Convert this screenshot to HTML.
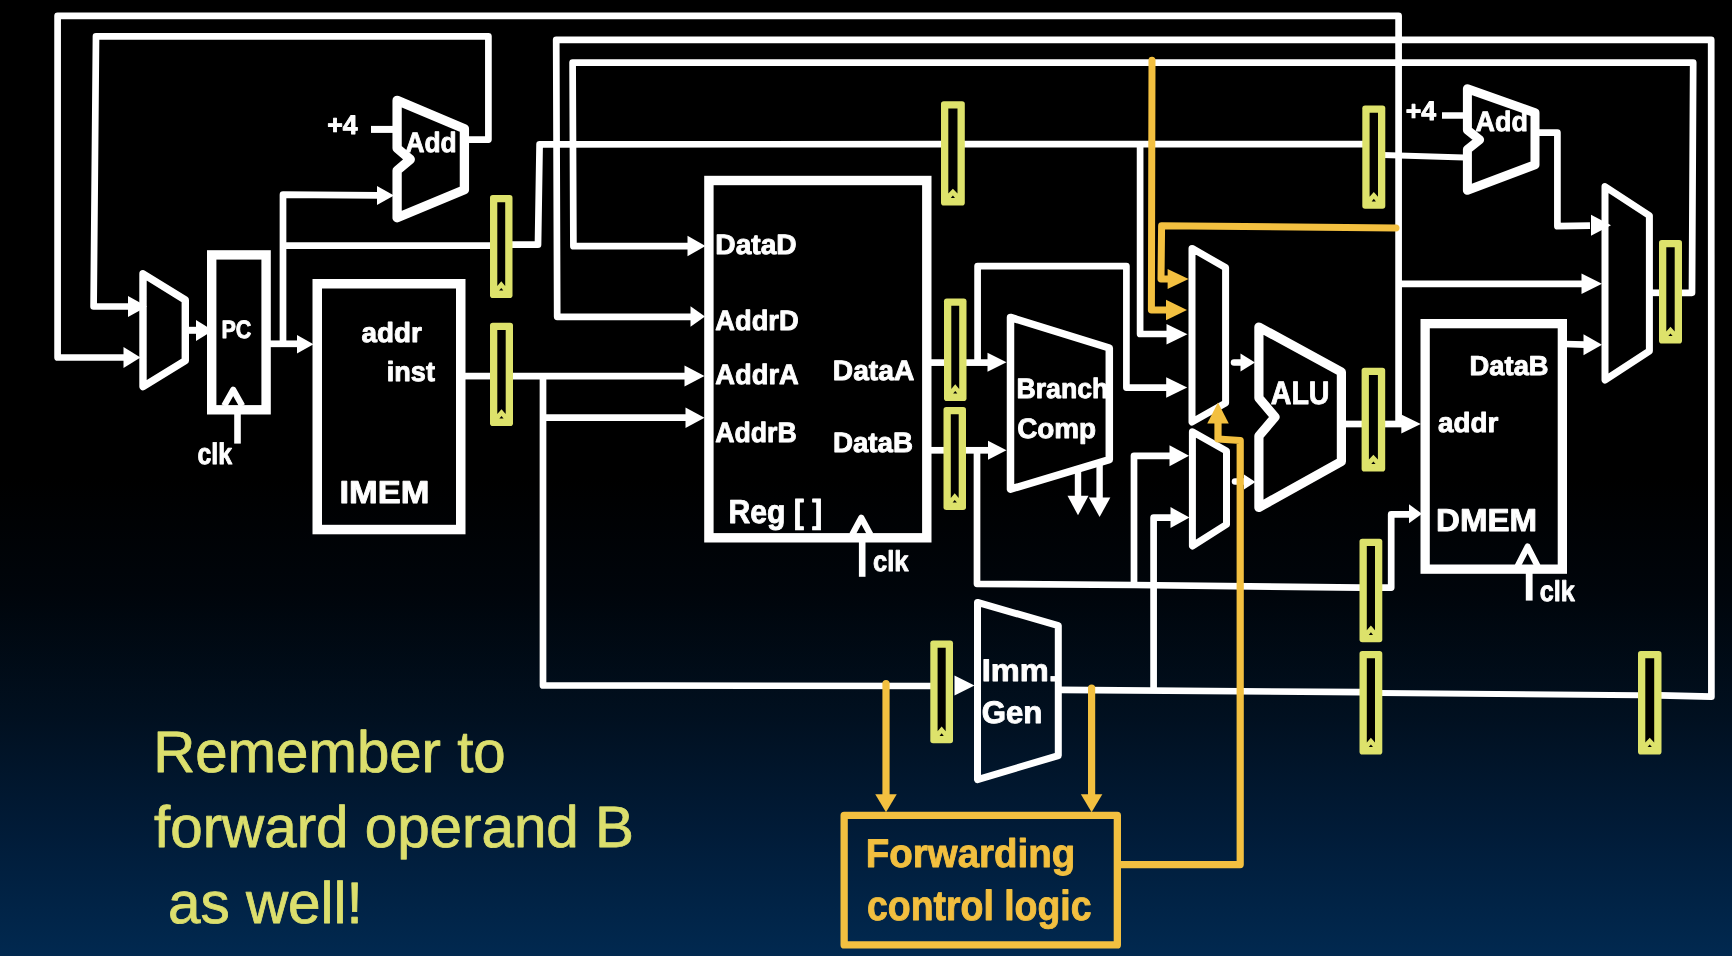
<!DOCTYPE html>
<html><head><meta charset="utf-8"><title>Forwarding datapath</title>
<style>
html,body{margin:0;padding:0;background:#000;}
body{width:1732px;height:956px;overflow:hidden;font-family:"Liberation Sans",sans-serif;}
svg{display:block;font-family:"Liberation Sans",sans-serif;}
</style></head><body>
<svg width="1732" height="956" viewBox="0 0 1732 956">
<defs><linearGradient id="bg" x1="0" y1="0" x2="0" y2="1">
<stop offset="0" stop-color="#000000"/><stop offset="0.50" stop-color="#000000"/>
<stop offset="0.62" stop-color="#00050b"/><stop offset="0.75" stop-color="#011020"/>
<stop offset="0.875" stop-color="#011c39"/><stop offset="1" stop-color="#012950"/>
</linearGradient></defs>
<rect width="1732" height="956" fill="url(#bg)"/>
<path d="M1398.60,424.00 L1398.60,15.80 L57.60,15.80 L57.60,357.50 L125.00,357.50" fill="none" stroke="#ffffff" stroke-width="6.7" stroke-linecap="butt" stroke-linejoin="round"/>
<path d="M140.50,357.50 L123.50,347.00 L123.50,368.00 Z" fill="#ffffff"/>
<path d="M466.00,139.60 L488.40,139.60 L488.40,36.30 L96.00,36.30 L93.60,306.50 L130.00,306.50" fill="none" stroke="#ffffff" stroke-width="6.7" stroke-linecap="butt" stroke-linejoin="round"/>
<path d="M147.00,306.50 L128.00,296.00 L128.00,317.00 Z" fill="#ffffff"/>
<path d="M371.00,129.40 L394.00,129.40" fill="none" stroke="#ffffff" stroke-width="7" stroke-linecap="butt" stroke-linejoin="round"/>
<path d="M1442.00,115.40 L1465.00,115.60" fill="none" stroke="#ffffff" stroke-width="6.5" stroke-linecap="butt" stroke-linejoin="round"/>
<path d="M188.00,330.30 L198.00,330.30" fill="none" stroke="#ffffff" stroke-width="7" stroke-linecap="butt" stroke-linejoin="round"/>
<path d="M213.00,330.50 L196.00,320.00 L196.00,341.00 Z" fill="#ffffff"/>
<path d="M269.00,343.80 L299.00,343.80" fill="none" stroke="#ffffff" stroke-width="6.7" stroke-linecap="butt" stroke-linejoin="round"/>
<path d="M313.50,344.30 L297.00,335.05 L297.00,353.55 Z" fill="#ffffff"/>
<path d="M283.00,346.00 L283.00,194.70 L378.00,195.30" fill="none" stroke="#ffffff" stroke-width="6.7" stroke-linecap="butt" stroke-linejoin="round"/>
<path d="M394.00,195.50 L377.00,186.00 L377.00,205.00 Z" fill="#ffffff"/>
<path d="M283.00,245.60 L492.00,245.60" fill="none" stroke="#ffffff" stroke-width="6.7" stroke-linecap="butt" stroke-linejoin="round"/>
<path d="M510.00,244.60 L538.00,244.60 L539.60,144.30 L943.00,144.20" fill="none" stroke="#ffffff" stroke-width="6.7" stroke-linecap="butt" stroke-linejoin="round"/>
<path d="M962.00,144.20 L1364.00,144.20" fill="none" stroke="#ffffff" stroke-width="6.7" stroke-linecap="butt" stroke-linejoin="round"/>
<path d="M1140.10,144.20 L1140.10,334.00 L1168.00,334.00" fill="none" stroke="#ffffff" stroke-width="6.7" stroke-linecap="butt" stroke-linejoin="round"/>
<path d="M1187.50,334.20 L1166.50,323.95 L1166.50,344.45 Z" fill="#ffffff"/>
<path d="M1383.00,155.00 L1464.00,157.60" fill="none" stroke="#ffffff" stroke-width="6" stroke-linecap="butt" stroke-linejoin="round"/>
<path d="M1538.00,132.60 L1557.40,132.60 L1557.40,226.20 L1590.00,225.60" fill="none" stroke="#ffffff" stroke-width="6.7" stroke-linecap="butt" stroke-linejoin="round"/>
<path d="M1611.00,225.30 L1591.00,214.80 L1591.00,235.80 Z" fill="#ffffff"/>
<path d="M464.00,376.10 L492.00,376.10" fill="none" stroke="#ffffff" stroke-width="6.7" stroke-linecap="butt" stroke-linejoin="round"/>
<path d="M511.00,376.10 L686.00,376.10" fill="none" stroke="#ffffff" stroke-width="6.7" stroke-linecap="butt" stroke-linejoin="round"/>
<path d="M704.50,376.00 L684.50,365.50 L684.50,386.50 Z" fill="#ffffff"/>
<path d="M543.00,376.00 L543.00,685.40 L932.00,686.00" fill="none" stroke="#ffffff" stroke-width="6.7" stroke-linecap="butt" stroke-linejoin="round"/>
<path d="M543.00,417.60 L687.00,417.60" fill="none" stroke="#ffffff" stroke-width="6.7" stroke-linecap="butt" stroke-linejoin="round"/>
<path d="M704.50,417.80 L685.50,407.55 L685.50,428.05 Z" fill="#ffffff"/>
<path d="M974.50,685.60 L954.50,675.60 L954.50,695.60 Z" fill="#ffffff"/>
<path d="M1060.00,689.90 L1361.00,692.20" fill="none" stroke="#ffffff" stroke-width="6.7" stroke-linecap="butt" stroke-linejoin="round"/>
<path d="M1153.60,690.50 L1153.60,517.70 L1172.00,517.70" fill="none" stroke="#ffffff" stroke-width="6.7" stroke-linecap="butt" stroke-linejoin="round"/>
<path d="M1189.50,517.60 L1170.50,507.10 L1170.50,528.10 Z" fill="#ffffff"/>
<path d="M1380.00,693.00 L1640.00,695.20" fill="none" stroke="#ffffff" stroke-width="6" stroke-linecap="butt" stroke-linejoin="round"/>
<path d="M1660.00,695.40 L1711.40,696.60 L1711.20,39.80 L556.20,39.80 L557.20,316.80 L692.00,316.80" fill="none" stroke="#ffffff" stroke-width="6.7" stroke-linecap="butt" stroke-linejoin="round"/>
<path d="M705.00,316.50 L690.50,306.25 L690.50,326.75 Z" fill="#ffffff"/>
<path d="M1651.00,292.80 L1661.00,292.80" fill="none" stroke="#ffffff" stroke-width="6.7" stroke-linecap="butt" stroke-linejoin="round"/>
<path d="M1680.00,292.80 L1692.00,292.80 L1693.20,62.60 L572.60,62.60 L573.40,246.20 L690.00,246.20" fill="none" stroke="#ffffff" stroke-width="6.7" stroke-linecap="butt" stroke-linejoin="round"/>
<path d="M705.50,246.00 L687.50,235.75 L687.50,256.25 Z" fill="#ffffff"/>
<path d="M930.00,362.60 L946.00,362.60" fill="none" stroke="#ffffff" stroke-width="6.7" stroke-linecap="butt" stroke-linejoin="round"/>
<path d="M964.00,362.60 L989.00,362.60" fill="none" stroke="#ffffff" stroke-width="6.7" stroke-linecap="butt" stroke-linejoin="round"/>
<path d="M1006.50,362.30 L987.50,352.80 L987.50,371.80 Z" fill="#ffffff"/>
<path d="M977.60,362.60 L977.60,266.10 L1126.40,266.10 L1126.40,387.60 L1168.00,387.60" fill="none" stroke="#ffffff" stroke-width="6.7" stroke-linecap="butt" stroke-linejoin="round"/>
<path d="M1187.20,387.60 L1166.20,377.35 L1166.20,397.85 Z" fill="#ffffff"/>
<path d="M930.00,450.30 L946.00,450.30" fill="none" stroke="#ffffff" stroke-width="6.7" stroke-linecap="butt" stroke-linejoin="round"/>
<path d="M964.00,450.30 L989.00,450.30" fill="none" stroke="#ffffff" stroke-width="6.7" stroke-linecap="butt" stroke-linejoin="round"/>
<path d="M1006.50,450.20 L988.00,440.70 L988.00,459.70 Z" fill="#ffffff"/>
<path d="M977.00,450.30 L977.00,583.80 L1134.00,585.00 L1361.00,587.60" fill="none" stroke="#ffffff" stroke-width="6.7" stroke-linecap="butt" stroke-linejoin="round"/>
<path d="M1134.00,582.00 L1134.00,455.80 L1171.00,455.80" fill="none" stroke="#ffffff" stroke-width="6.7" stroke-linecap="round" stroke-linejoin="round"/>
<path d="M1189.00,455.80 L1169.50,445.30 L1169.50,466.30 Z" fill="#ffffff"/>
<path d="M1380.00,587.60 L1391.20,587.60 L1391.20,514.30 L1411.00,514.30" fill="none" stroke="#ffffff" stroke-width="6.7" stroke-linecap="butt" stroke-linejoin="round"/>
<path d="M1422.00,513.80 L1409.00,504.30 L1409.00,523.30 Z" fill="#ffffff"/>
<path d="M1234.00,362.40 L1242.00,362.40" fill="none" stroke="#ffffff" stroke-width="6.5" stroke-linecap="round" stroke-linejoin="round"/>
<path d="M1255.00,362.40 L1240.50,353.40 L1240.50,371.40 Z" fill="#ffffff"/>
<path d="M1235.00,481.60 L1245.00,481.60" fill="none" stroke="#ffffff" stroke-width="6.5" stroke-linecap="round" stroke-linejoin="round"/>
<path d="M1255.50,482.00 L1244.00,474.50 L1244.00,489.50 Z" fill="#ffffff"/>
<path d="M1345.00,424.00 L1363.00,424.00" fill="none" stroke="#ffffff" stroke-width="6.7" stroke-linecap="butt" stroke-linejoin="round"/>
<path d="M1383.00,424.00 L1403.00,424.00" fill="none" stroke="#ffffff" stroke-width="6.7" stroke-linecap="butt" stroke-linejoin="round"/>
<path d="M1420.80,424.10 L1401.30,414.60 L1401.30,433.60 Z" fill="#ffffff"/>
<path d="M1398.60,283.80 L1583.00,283.80" fill="none" stroke="#ffffff" stroke-width="6.7" stroke-linecap="butt" stroke-linejoin="round"/>
<path d="M1602.00,283.80 L1581.50,273.55 L1581.50,294.05 Z" fill="#ffffff"/>
<path d="M1565.00,344.00 L1585.00,344.60" fill="none" stroke="#ffffff" stroke-width="6.7" stroke-linecap="butt" stroke-linejoin="round"/>
<path d="M1602.00,344.80 L1583.50,334.30 L1583.50,355.30 Z" fill="#ffffff"/>
<path d="M1078.00,466.00 L1078.00,498.00" fill="none" stroke="#ffffff" stroke-width="6.4" stroke-linecap="butt" stroke-linejoin="round"/>
<path d="M1078.00,515.30 L1067.50,495.80 L1088.50,495.80 Z" fill="#ffffff"/>
<path d="M1099.60,460.00 L1099.60,499.00" fill="none" stroke="#ffffff" stroke-width="6.4" stroke-linecap="butt" stroke-linejoin="round"/>
<path d="M1099.60,517.00 L1088.85,497.50 L1110.35,497.50 Z" fill="#ffffff"/>
<path d="M237.50,412.00 L237.50,443.60" fill="none" stroke="#ffffff" stroke-width="6.6" stroke-linecap="butt" stroke-linejoin="round"/>
<path d="M862.20,540.00 L862.20,576.80" fill="none" stroke="#ffffff" stroke-width="6.6" stroke-linecap="butt" stroke-linejoin="round"/>
<path d="M1529.20,571.00 L1529.20,600.60" fill="none" stroke="#ffffff" stroke-width="6.8" stroke-linecap="butt" stroke-linejoin="round"/>
<path d="M143.00,273.80 L185.30,300.00 L185.30,360.70 L143.00,386.60 Z" fill="none" stroke="#ffffff" stroke-width="7.4" stroke-linejoin="round"/>
<rect x="211.70" y="254.90" width="54.40" height="154.90" fill="none" stroke="#ffffff" stroke-width="9.4" stroke-linejoin="miter"/>
<path d="M224.20,405.80 L233.20,389.80 L242.20,405.80" fill="none" stroke="#ffffff" stroke-width="6.2" stroke-linejoin="round" stroke-linecap="butt"/>
<rect x="317.25" y="283.75" width="143.50" height="245.80" fill="none" stroke="#ffffff" stroke-width="9.5" stroke-linejoin="miter"/>
<path d="M397.10,100.40 L464.40,128.80 L464.40,189.80 L397.10,217.80 L397.10,170.50 L410.30,159.40 L397.10,148.30 Z" fill="none" stroke="#ffffff" stroke-width="9.3" stroke-linejoin="round"/>
<rect x="708.90" y="180.50" width="217.90" height="357.30" fill="none" stroke="#ffffff" stroke-width="9.4" stroke-linejoin="miter"/>
<path d="M852.10,534.80 L861.30,517.80 L870.50,534.80" fill="none" stroke="#ffffff" stroke-width="6.2" stroke-linejoin="round" stroke-linecap="butt"/>
<path d="M1010.50,317.40 L1109.30,348.00 L1109.30,459.70 L1010.50,489.20 Z" fill="none" stroke="#ffffff" stroke-width="7.5" stroke-linejoin="round"/>
<path d="M1192.00,248.40 L1225.60,267.60 L1225.60,403.00 L1192.00,422.00 Z" fill="none" stroke="#ffffff" stroke-width="7" stroke-linejoin="round"/>
<path d="M1192.40,431.80 L1226.50,451.00 L1226.50,524.40 L1192.40,546.00 Z" fill="none" stroke="#ffffff" stroke-width="7" stroke-linejoin="round"/>
<path d="M1258.90,327.00 L1341.40,372.00 L1341.40,461.60 L1258.90,507.40 L1258.90,436.00 L1275.00,417.00 L1258.90,398.00 Z" fill="none" stroke="#ffffff" stroke-width="9.2" stroke-linejoin="round"/>
<rect x="1425.15" y="323.65" width="137.20" height="245.50" fill="none" stroke="#ffffff" stroke-width="9.3" stroke-linejoin="miter"/>
<path d="M1517.60,566.20 L1527.60,546.60 L1537.60,566.20" fill="none" stroke="#ffffff" stroke-width="6.2" stroke-linejoin="round" stroke-linecap="butt"/>
<path d="M1467.40,88.70 L1535.00,112.80 L1535.00,164.70 L1467.40,190.30 L1467.40,149.60 L1479.60,139.80 L1467.40,130.00 Z" fill="none" stroke="#ffffff" stroke-width="9" stroke-linejoin="round"/>
<path d="M1605.00,186.60 L1649.40,215.60 L1649.40,351.00 L1605.00,380.00 Z" fill="none" stroke="#ffffff" stroke-width="7" stroke-linejoin="round"/>
<path d="M977.50,602.40 L1058.30,625.60 L1058.30,755.60 L977.50,779.60 Z" fill="none" stroke="#ffffff" stroke-width="7" stroke-linejoin="round"/>
<path d="M1152.00,60.20 L1151.40,310.00 L1168.00,310.00" fill="none" stroke="#f3c040" stroke-width="7" stroke-linecap="round" stroke-linejoin="round"/>
<path d="M1187.00,310.00 L1166.00,299.75 L1166.00,320.25 Z" fill="#f3c040"/>
<path d="M1396.00,228.00 L1161.60,225.80 L1161.00,279.00 L1170.00,279.00" fill="none" stroke="#f3c040" stroke-width="7" stroke-linecap="round" stroke-linejoin="round"/>
<path d="M1188.60,279.00 L1167.60,269.00 L1167.60,289.00 Z" fill="#f3c040"/>
<path d="M1119.00,864.60 L1240.20,864.60 L1240.20,440.50 L1218.00,439.00 L1218.00,420.00" fill="none" stroke="#f3c040" stroke-width="7.2" stroke-linecap="butt" stroke-linejoin="round"/>
<path d="M1218.00,402.40 L1207.25,423.40 L1228.75,423.40 Z" fill="#f3c040"/>
<path d="M886.00,683.50 L886.00,797.00" fill="none" stroke="#f3c040" stroke-width="7.2" stroke-linecap="round" stroke-linejoin="round"/>
<path d="M886.00,812.30 L875.25,794.30 L896.75,794.30 Z" fill="#f3c040"/>
<path d="M1091.60,688.00 L1091.60,797.00" fill="none" stroke="#f3c040" stroke-width="7.2" stroke-linecap="round" stroke-linejoin="round"/>
<path d="M1091.60,812.30 L1080.85,794.30 L1102.35,794.30 Z" fill="#f3c040"/>
<rect x="844.15" y="815.45" width="273.20" height="129.50" fill="none" stroke="#f3c040" stroke-width="7.3" stroke-linejoin="round"/>
<rect x="490.00" y="195.00" width="22.50" height="103.00" rx="2.8" fill="#dde26b"/>
<path d="M497.30,202.30 L505.20,202.30 L505.20,285.90 L501.25,281.20 L497.30,285.90 Z" fill="#000"/>
<path d="M501.25,288.00 L503.35,290.60 L499.15,290.60 Z" fill="#000"/>
<rect x="490.00" y="322.80" width="23.00" height="103.20" rx="2.8" fill="#dde26b"/>
<path d="M497.30,330.10 L505.70,330.10 L505.70,413.90 L501.50,409.20 L497.30,413.90 Z" fill="#000"/>
<path d="M501.50,416.00 L503.60,418.60 L499.40,418.60 Z" fill="#000"/>
<rect x="941.00" y="101.30" width="23.80" height="104.20" rx="2.8" fill="#dde26b"/>
<path d="M948.30,108.60 L957.50,108.60 L957.50,193.40 L952.90,188.70 L948.30,193.40 Z" fill="#000"/>
<path d="M952.90,195.50 L955.00,198.10 L950.80,198.10 Z" fill="#000"/>
<rect x="944.00" y="298.50" width="22.50" height="102.50" rx="2.8" fill="#dde26b"/>
<path d="M951.30,305.80 L959.20,305.80 L959.20,388.90 L955.25,384.20 L951.30,388.90 Z" fill="#000"/>
<path d="M955.25,391.00 L957.35,393.60 L953.15,393.60 Z" fill="#000"/>
<rect x="943.50" y="407.00" width="22.50" height="103.00" rx="2.8" fill="#dde26b"/>
<path d="M950.80,414.30 L958.70,414.30 L958.70,497.90 L954.75,493.20 L950.80,497.90 Z" fill="#000"/>
<path d="M954.75,500.00 L956.85,502.60 L952.65,502.60 Z" fill="#000"/>
<rect x="930.30" y="640.50" width="22.70" height="102.80" rx="2.8" fill="#dde26b"/>
<path d="M937.60,647.80 L945.70,647.80 L945.70,731.20 L941.65,726.50 L937.60,731.20 Z" fill="#000"/>
<path d="M941.65,733.30 L943.75,735.90 L939.55,735.90 Z" fill="#000"/>
<rect x="1362.30" y="105.50" width="23.00" height="103.30" rx="2.8" fill="#dde26b"/>
<path d="M1369.60,112.80 L1378.00,112.80 L1378.00,196.70 L1373.80,192.00 L1369.60,196.70 Z" fill="#000"/>
<path d="M1373.80,198.80 L1375.90,201.40 L1371.70,201.40 Z" fill="#000"/>
<rect x="1361.60" y="367.80" width="23.60" height="103.70" rx="2.8" fill="#dde26b"/>
<path d="M1368.90,375.10 L1377.90,375.10 L1377.90,459.40 L1373.40,454.70 L1368.90,459.40 Z" fill="#000"/>
<path d="M1373.40,461.50 L1375.50,464.10 L1371.30,464.10 Z" fill="#000"/>
<rect x="1359.50" y="538.80" width="22.80" height="103.50" rx="2.8" fill="#dde26b"/>
<path d="M1366.80,546.10 L1375.00,546.10 L1375.00,630.20 L1370.90,625.50 L1366.80,630.20 Z" fill="#000"/>
<path d="M1370.90,632.30 L1373.00,634.90 L1368.80,634.90 Z" fill="#000"/>
<rect x="1359.50" y="651.00" width="22.80" height="103.50" rx="2.8" fill="#dde26b"/>
<path d="M1366.80,658.30 L1375.00,658.30 L1375.00,742.40 L1370.90,737.70 L1366.80,742.40 Z" fill="#000"/>
<path d="M1370.90,744.50 L1373.00,747.10 L1368.80,747.10 Z" fill="#000"/>
<rect x="1659.00" y="240.00" width="23.00" height="103.50" rx="2.8" fill="#dde26b"/>
<path d="M1666.30,247.30 L1674.70,247.30 L1674.70,331.40 L1670.50,326.70 L1666.30,331.40 Z" fill="#000"/>
<path d="M1670.50,333.50 L1672.60,336.10 L1668.40,336.10 Z" fill="#000"/>
<rect x="1638.00" y="651.00" width="23.50" height="103.50" rx="2.8" fill="#dde26b"/>
<path d="M1645.30,658.30 L1654.20,658.30 L1654.20,742.40 L1649.75,737.70 L1645.30,742.40 Z" fill="#000"/>
<path d="M1649.75,744.50 L1651.85,747.10 L1647.65,747.10 Z" fill="#000"/>
<g opacity="0.999" text-rendering="geometricPrecision">
<text transform="translate(327.32,133.60) scale(0.9909,1)" font-size="26.88" font-weight="bold" fill="#ffffff" stroke="#ffffff" stroke-width="0.9" stroke-linejoin="round">+4</text>
<text transform="translate(405.39,151.80) scale(0.9393,1)" font-size="28.04" font-weight="bold" fill="#ffffff" stroke="#ffffff" stroke-width="0.9" stroke-linejoin="round">Add</text>
<text transform="translate(221.50,337.80) scale(0.8572,1)" font-size="25.13" font-weight="bold" fill="#ffffff" stroke="#ffffff" stroke-width="0.9" stroke-linejoin="round">PC</text>
<text transform="translate(197.46,464.00) scale(0.8308,1)" font-size="29.90" font-weight="bold" fill="#ffffff" stroke="#ffffff" stroke-width="0.9" stroke-linejoin="round">clk</text>
<text transform="translate(361.61,342.30) scale(1.0053,1)" font-size="27.70" font-weight="bold" fill="#ffffff" stroke="#ffffff" stroke-width="0.9" stroke-linejoin="round">addr</text>
<text transform="translate(386.86,381.30) scale(0.9756,1)" font-size="27.70" font-weight="bold" fill="#ffffff" stroke="#ffffff" stroke-width="0.9" stroke-linejoin="round">inst</text>
<text transform="translate(339.42,503.00) scale(1.0929,1)" font-size="31.53" font-weight="bold" fill="#ffffff" stroke="#ffffff" stroke-width="0.9" stroke-linejoin="round">IMEM</text>
<text transform="translate(715.35,254.00) scale(1.0043,1)" font-size="28.04" font-weight="bold" fill="#ffffff" stroke="#ffffff" stroke-width="0.9" stroke-linejoin="round">DataD</text>
<text transform="translate(715.27,330.30) scale(0.9740,1)" font-size="28.04" font-weight="bold" fill="#ffffff" stroke="#ffffff" stroke-width="0.9" stroke-linejoin="round">AddrD</text>
<text transform="translate(715.27,384.00) scale(0.9750,1)" font-size="28.04" font-weight="bold" fill="#ffffff" stroke="#ffffff" stroke-width="0.9" stroke-linejoin="round">AddrA</text>
<text transform="translate(715.28,442.00) scale(0.9509,1)" font-size="28.04" font-weight="bold" fill="#ffffff" stroke="#ffffff" stroke-width="0.9" stroke-linejoin="round">AddrB</text>
<text transform="translate(832.85,379.80) scale(1.0053,1)" font-size="28.04" font-weight="bold" fill="#ffffff" stroke="#ffffff" stroke-width="0.9" stroke-linejoin="round">DataA</text>
<text transform="translate(832.88,452.00) scale(0.9886,1)" font-size="28.04" font-weight="bold" fill="#ffffff" stroke="#ffffff" stroke-width="0.9" stroke-linejoin="round">DataB</text>
<text transform="translate(728.41,523.00) scale(0.9062,1)" font-size="33.28" font-weight="bold" fill="#ffffff" stroke="#ffffff" stroke-width="0.9" stroke-linejoin="round">Reg [ ]</text>
<text transform="translate(872.93,571.00) scale(0.8883,1)" font-size="28.80" font-weight="bold" fill="#ffffff" stroke="#ffffff" stroke-width="0.9" stroke-linejoin="round">clk</text>
<text transform="translate(1016.45,397.80) scale(0.9523,1)" font-size="28.04" font-weight="bold" fill="#ffffff" stroke="#ffffff" stroke-width="0.9" stroke-linejoin="round">Branch</text>
<text transform="translate(1017.13,437.80) scale(0.9949,1)" font-size="28.04" font-weight="bold" fill="#ffffff" stroke="#ffffff" stroke-width="0.9" stroke-linejoin="round">Comp</text>
<text transform="translate(1270.73,403.50) scale(0.8830,1)" font-size="32.41" font-weight="bold" fill="#ffffff" stroke="#ffffff" stroke-width="0.9" stroke-linejoin="round">ALU</text>
<text transform="translate(981.75,681.00) scale(1.0429,1)" font-size="31.24" font-weight="bold" fill="#ffffff" stroke="#ffffff" stroke-width="0.9" stroke-linejoin="round">Imm.</text>
<text transform="translate(981.70,723.20) scale(0.9992,1)" font-size="31.24" font-weight="bold" fill="#ffffff" stroke="#ffffff" stroke-width="0.9" stroke-linejoin="round">Gen</text>
<text transform="translate(1405.82,120.40) scale(0.9909,1)" font-size="26.88" font-weight="bold" fill="#ffffff" stroke="#ffffff" stroke-width="0.9" stroke-linejoin="round">+4</text>
<text transform="translate(1475.58,131.30) scale(0.9586,1)" font-size="28.04" font-weight="bold" fill="#ffffff" stroke="#ffffff" stroke-width="0.9" stroke-linejoin="round">Add</text>
<text transform="translate(1469.61,374.80) scale(0.9951,1)" font-size="27.46" font-weight="bold" fill="#ffffff" stroke="#ffffff" stroke-width="0.9" stroke-linejoin="round">DataB</text>
<text transform="translate(1437.91,432.30) scale(1.0053,1)" font-size="27.70" font-weight="bold" fill="#ffffff" stroke="#ffffff" stroke-width="0.9" stroke-linejoin="round">addr</text>
<text transform="translate(1436.02,531.30) scale(1.0491,1)" font-size="31.53" font-weight="bold" fill="#ffffff" stroke="#ffffff" stroke-width="0.9" stroke-linejoin="round">DMEM</text>
<text transform="translate(1539.74,600.50) scale(0.8754,1)" font-size="28.80" font-weight="bold" fill="#ffffff" stroke="#ffffff" stroke-width="0.9" stroke-linejoin="round">clk</text>
<text transform="translate(865.86,867.00) scale(0.9616,1)" font-size="39.97" font-weight="bold" fill="#f3c040" stroke="#f3c040" stroke-width="0.9" stroke-linejoin="round">Forwarding</text>
<text transform="translate(866.95,919.50) scale(0.8905,1)" font-size="42.04" font-weight="bold" fill="#f3c040" stroke="#f3c040" stroke-width="0.9" stroke-linejoin="round">control logic</text>
<text transform="translate(153.20,771.60) scale(0.9963,1)" font-size="58.41" font-weight="normal" fill="#dde06e" stroke="#dde06e" stroke-width="0.8" stroke-linejoin="round">Remember to</text>
<text transform="translate(154.03,847.20) scale(0.9986,1)" font-size="58.41" font-weight="normal" fill="#dde06e" stroke="#dde06e" stroke-width="0.8" stroke-linejoin="round">forward operand B</text>
<text transform="translate(167.92,923.40) scale(1.0007,1)" font-size="58.41" font-weight="normal" fill="#dde06e" stroke="#dde06e" stroke-width="0.8" stroke-linejoin="round">as well!</text>
</g>
</svg></body></html>
